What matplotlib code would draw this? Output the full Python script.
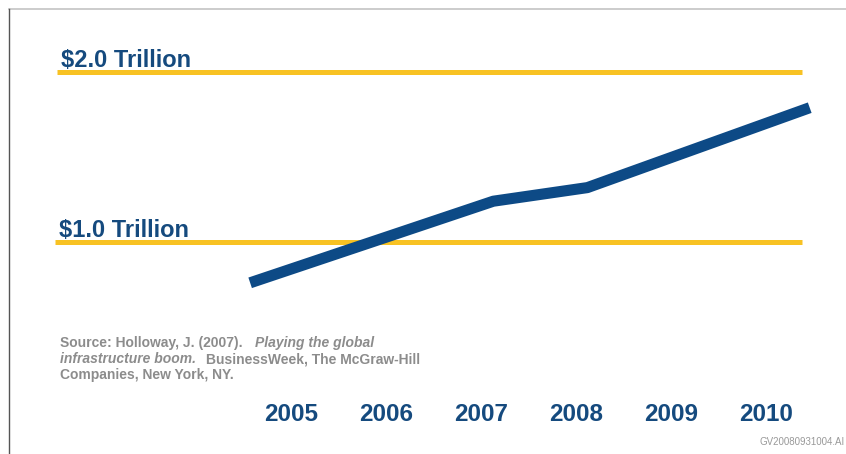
import matplotlib.pyplot as plt
from matplotlib.lines import Line2D

# chart data
years = [2005, 2006, 2007, 2008, 2009, 2010]
line_x = [2004.57, 2007.13, 2008.12, 2010.46]
line_vals = [0.76, 1.24, 1.32, 1.79]   # trillions of dollars
levels = [1.0, 2.0]
level_labels = [r'\$1.0 Trillion', r'\$2.0 Trillion']
level_starts = [2002.52, 2002.54]
level_end = 2010.38

navy = '#0d4a86'
text_navy = '#154a7e'
gold = '#f8c223'
gray = '#8c8c8c'

W, H = 846, 454
fig = plt.figure(figsize=(W / 100, H / 100), dpi=100)
ax = fig.add_axes([0, 0, 1, 1])
ax.set_xlim(2001.937, 2010.842)
ax.set_ylim(-0.247, 2.4235)
ax.axis('off')

# gold reference lines and their labels
for lv, lab, x0 in zip(levels, level_labels, level_starts):
    ax.plot([x0, level_end], [lv, lv], color=gold, lw=3.6, solid_capstyle='butt')
    ax.text(x0 + 0.04, lv + 0.03, lab, color=text_navy, fontsize=17,
            fontweight='bold', family='Liberation Sans', va='baseline')

# growth line
ax.plot(line_x, line_vals, color=navy, lw=8, solid_capstyle='butt',
        solid_joinstyle='round')

# year labels
for y in years:
    ax.text(y, -0.012, str(y), color=text_navy, fontsize=17.5, fontweight='bold',
            family=['Liberation Sans Narrow', 'Liberation Sans'],
            ha='center', va='center')

# source note
def px(x, y):
    return x / W, 1 - y / H

src = dict(color=gray, fontsize=10, fontweight='bold', family='Liberation Sans',
           va='baseline')
fig.text(*px(60, 347), 'Source: Holloway, J. (2007).', **src)
fig.text(*px(255, 347), 'Playing the global', style='italic', **src)
fig.text(*px(60, 363), 'infrastructure boom.', style='italic', **src)
fig.text(*px(206, 363), 'BusinessWeek, The McGraw-Hill', **src)
fig.text(*px(60, 379), 'Companies, New York, NY.', **src)

fig.text(*px(845, 445), 'GV20080931004.AI', color='#999999', fontsize=7,
         family='Liberation Sans', ha='right', va='baseline')

# slide frame
fig.add_artist(Line2D([9 / W, 1], [1 - 9 / H, 1 - 9 / H], color='#c4c4c4',
                      lw=1.2, transform=fig.transFigure))
fig.add_artist(Line2D([9 / W, 9 / W], [0, 1 - 9 / H], color='#555555',
                      lw=1.0, transform=fig.transFigure))

fig.savefig('out.png', dpi=100)
